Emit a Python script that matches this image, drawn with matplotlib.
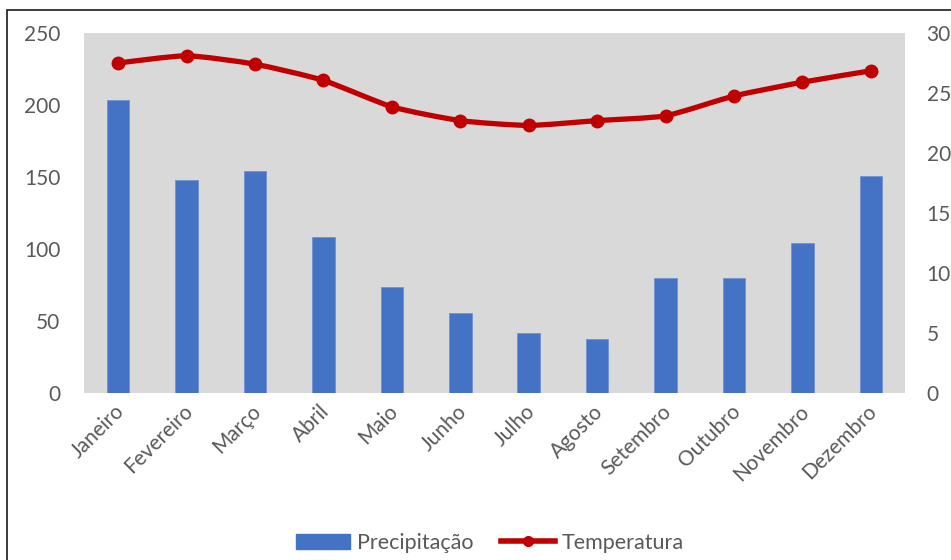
import numpy as np
import matplotlib
matplotlib.use('Agg')
import matplotlib.pyplot as plt
import matplotlib.transforms as mtransforms
from matplotlib.path import Path
from matplotlib.patches import PathPatch, Rectangle
from matplotlib.lines import Line2D

meses = ["Janeiro", "Fevereiro", "Março", "Abril", "Maio", "Junho",
         "Julho", "Agosto", "Setembro", "Outubro", "Novembro", "Dezembro"]
precipitacao = [203.5, 148, 154.5, 108, 73.5, 55.5, 42, 37.5, 80, 80, 104.5, 151]
temperatura = [27.5, 28.1, 27.4, 26.05, 23.85, 22.7, 22.3, 22.7, 23.1, 24.75, 25.9, 26.85]

cor_barra = '#4472c4'
cor_linha = '#c00000'
cor_texto = '#595959'

plt.rcParams['font.family'] = ['Lato', 'DejaVu Sans']

fig = plt.figure(figsize=(9.51, 5.60), dpi=100)
ax = fig.add_axes([84 / 951, 1 - 393 / 560, (905 - 84) / 951, (393 - 33) / 560])
ax.set_facecolor('#d9d9d9')

x = np.arange(len(meses))
ax.bar(x, precipitacao, width=0.33, color=cor_barra, edgecolor='#6f93d3', linewidth=0.6, zorder=2)
ax.set_xlim(-0.5, len(meses) - 0.5)
ax.set_ylim(0, 250)
ax.set_yticks(range(0, 251, 50))
ax.set_xticks(x)
ax.set_xticklabels(meses, rotation=45, ha='right', rotation_mode='anchor')

ax2 = ax.twinx()
ax2.set_ylim(0, 30)
ax2.set_yticks(range(0, 31, 5))

# linha levemente suavizada (Catmull-Rom com tensao reduzida -> Bezier)
pts = np.column_stack([x, temperatura])
verts = [tuple(pts[0])]
codes = [Path.MOVETO]
for i in range(len(pts) - 1):
    p0 = pts[max(i - 1, 0)]
    p1 = pts[i]
    p2 = pts[i + 1]
    p3 = pts[min(i + 2, len(pts) - 1)]
    c1 = p1 + (p2 - p0) / 10
    c2 = p2 - (p3 - p1) / 10
    verts += [tuple(c1), tuple(c2), tuple(p2)]
    codes += [Path.CURVE4] * 3
curva = PathPatch(Path(verts, codes), facecolor='none', edgecolor=cor_linha,
                  linewidth=3.8, capstyle='round', joinstyle='round', zorder=3)
ax2.add_patch(curva)
ax2.plot(x, temperatura, linestyle='none', marker='o', markersize=9,
         color=cor_linha, zorder=4)

for a in (ax, ax2):
    for s in a.spines.values():
        s.set_visible(False)
    a.tick_params(length=0, colors=cor_texto, labelsize=15)
ax.tick_params(axis='y', pad=17)
ax2.tick_params(axis='y', pad=15.5)
ax.tick_params(axis='x', pad=6)
desloc = mtransforms.ScaledTranslation(-4 / 100, 0, fig.dpi_scale_trans)
for lbl in ax.get_xticklabels():
    lbl.set_transform(lbl.get_transform() + desloc)
for lbl in ax.get_yticklabels() + ax2.get_yticklabels() + ax.get_xticklabels():
    lbl.set_color(cor_texto)

# legenda
handles = [Rectangle((0, 0), 1, 1, facecolor=cor_barra, edgecolor=cor_barra),
           Line2D([0], [0], color=cor_linha, linewidth=4, marker='o', markersize=7)]
fig.legend(handles, ["Precipitação", "Temperatura"], loc='center',
           bbox_to_anchor=(490 / 951, 1 - 543 / 560), ncol=2, frameon=False,
           fontsize=15.5, labelcolor=cor_texto, handlelength=2.5, handletextpad=0.3,
           columnspacing=1.3)

# moldura do grafico
fig.add_artist(Rectangle((7 / 951, -0.1), 1.2, 1.1 - 10 / 560, transform=fig.transFigure,
                         facecolor='none', edgecolor='#1a1a1a', linewidth=1.2))

fig.savefig('out.png', dpi=100)
